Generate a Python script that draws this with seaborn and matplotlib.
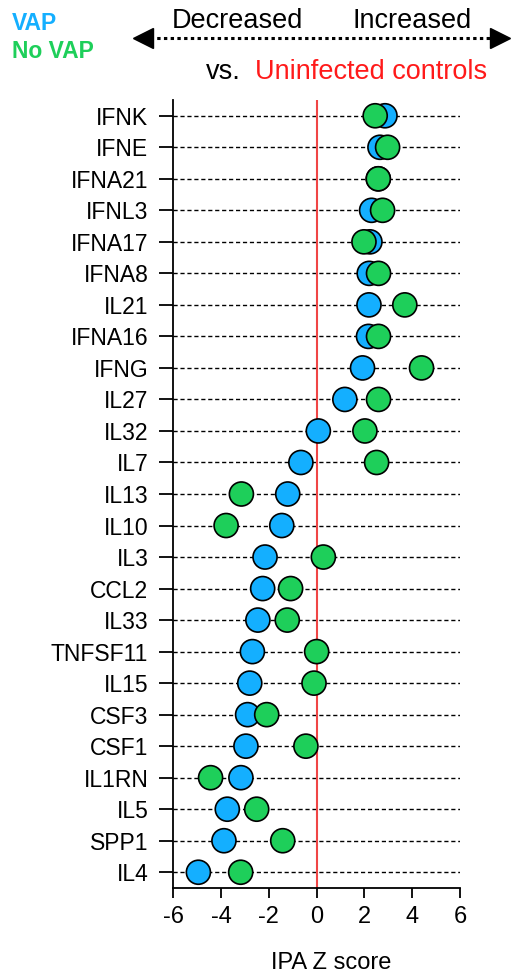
import matplotlib
matplotlib.use('Agg')
import matplotlib.pyplot as plt
from matplotlib.lines import Line2D
import seaborn as sns
import pandas as pd

# cytokines, top to bottom
genes = ['IFNK', 'IFNE', 'IFNA21', 'IFNL3', 'IFNA17', 'IFNA8', 'IL21', 'IFNA16',
         'IFNG', 'IL27', 'IL32', 'IL7', 'IL13', 'IL10', 'IL3', 'CCL2', 'IL33',
         'TNFSF11', 'IL15', 'CSF3', 'CSF1', 'IL1RN', 'IL5', 'SPP1', 'IL4']
vap_z = [2.86, 2.65, 2.58, 2.30, 2.23, 2.20, 2.19, 2.17, 1.92, 1.18, 0.07, -0.66,
         -1.21, -1.46, -2.16, -2.26, -2.46, -2.69, -2.80, -2.89, -2.96, -3.17,
         -3.74, -3.88, -4.95]
novap_z = [2.45, 2.97, 2.58, 2.76, 1.98, 2.59, 3.69, 2.59, 4.39, 2.59, 2.02, 2.51,
           -3.15, -3.79, 0.28, -1.09, -1.23, 0.00, -0.11, -2.09, -0.45, -4.44,
           -2.51, -1.42, -3.18]
groups = ['VAP', 'No VAP']
colors = {'VAP': '#14AFFF', 'No VAP': '#1ECF5A'}

W, H = 511, 976

def fx(x):
    return x / W

def fy(y):
    return 1 - y / H

df = pd.DataFrame({
    'gene': genes + genes,
    'z': vap_z + novap_z,
    'group': ['VAP'] * len(genes) + ['No VAP'] * len(genes),
})

sns.set_theme(style='white')
plt.rcParams['font.family'] = ['Liberation Sans', 'DejaVu Sans']
plt.rcParams['axes.unicode_minus'] = False

fig = plt.figure(figsize=(W / 100, H / 100), dpi=100)
ax = fig.add_axes([fx(173.3), fy(888), fx(460) - fx(173.3), fy(100) - fy(888)])

ax.axvline(0, color='#F04646', lw=1.5, zorder=1)
sns.scatterplot(data=df, x='z', y='gene', hue='group', palette=colors,
                s=300, edgecolor='black', linewidth=1.2, legend=False,
                zorder=3, ax=ax)

ax.set_xlim(-6, 6)
ax.set_ylim(len(genes) - 0.5, -0.5)
ax.set_xticks(range(-6, 7, 2))
ax.yaxis.grid(True, color='black', linestyle=(0, (3, 2)), lw=1.0)
ax.set_axisbelow(True)
for s in ['top', 'right']:
    ax.spines[s].set_visible(False)
for s in ['left', 'bottom']:
    ax.spines[s].set_color('black')
    ax.spines[s].set_linewidth(1.3)
ax.tick_params(axis='y', direction='out', length=10, width=1.3, pad=8,
               labelsize=16.5, colors='black', left=True)
ax.tick_params(axis='x', direction='out', length=7, width=1.3, pad=6,
               labelsize=17, colors='black', bottom=True)
ax.set_ylabel('')
ax.set_xlabel('IPA Z score', fontsize=17, color='black')
ax.xaxis.set_label_coords(0.55, -0.095)
ax.xaxis.label.set_va('center')

# header
fig.text(fx(12), fy(30), 'VAP', color=colors['VAP'], fontsize=16.5,
         fontweight='bold', va='baseline')
fig.text(fx(12), fy(58), 'No VAP', color=colors['No VAP'], fontsize=16.5,
         fontweight='bold', va='baseline')
fig.text(fx(237), fy(27.5), 'Decreased', fontsize=19.5, ha='center', va='baseline', color='black')
fig.text(fx(412), fy(27.5), 'Increased', fontsize=19.5, ha='center', va='baseline', color='black')
fig.text(fx(241), fy(79), 'vs.', fontsize=19.5, ha='right', va='baseline', color='black')
fig.text(fx(255), fy(79), 'Uninfected controls', fontsize=19.5, ha='left',
         va='baseline', color='#FF1A1A')

fig.add_artist(Line2D([fx(150), fx(492)], [fy(37.5), fy(37.5)], color='black',
                      lw=2.2, linestyle=(0, (1.1, 1.1)), transform=fig.transFigure))
fig.add_artist(Line2D([fx(143)], [fy(37.5)], marker='<', markersize=14, color='black',
                      lw=0, transform=fig.transFigure))
fig.add_artist(Line2D([fx(500)], [fy(37.5)], marker='>', markersize=14, color='black',
                      lw=0, transform=fig.transFigure))

fig.savefig('out.png', dpi=100)
